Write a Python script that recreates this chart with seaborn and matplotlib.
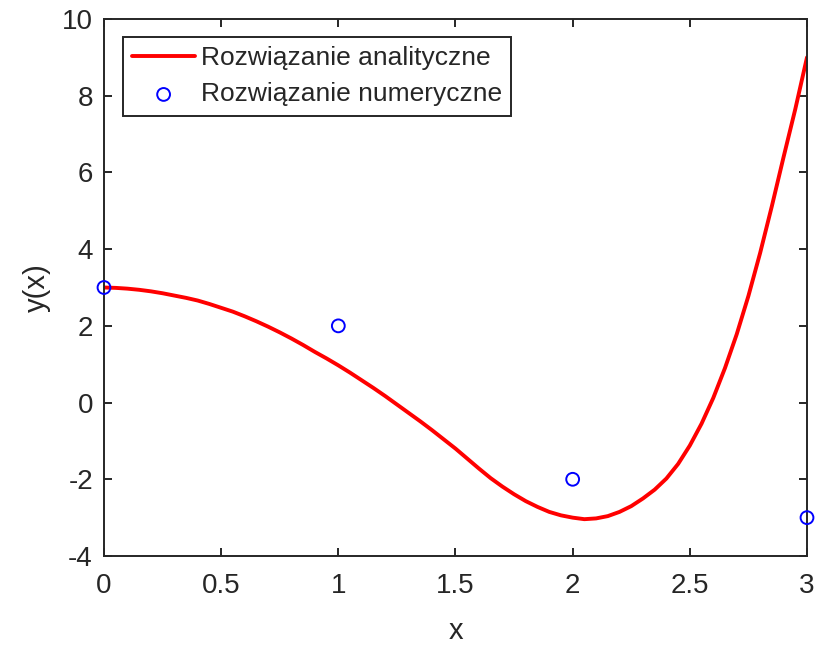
import matplotlib
matplotlib.use("Agg")
import matplotlib.pyplot as plt
import seaborn as sns
import pandas as pd

# Analytic solution
x_analytic = [0.00, 0.05, 0.10, 0.15, 0.20, 0.25, 0.30, 0.35, 0.40, 0.45,
              0.50, 0.55, 0.60, 0.65, 0.70, 0.75, 0.80, 0.85, 0.90, 0.95,
              1.00, 1.05, 1.10, 1.15, 1.20, 1.25, 1.30, 1.35, 1.40, 1.45,
              1.50, 1.55, 1.60, 1.65, 1.70, 1.75, 1.80, 1.85, 1.90, 1.95,
              2.00, 2.05, 2.10, 2.15, 2.20, 2.25, 2.30, 2.35, 2.40, 2.45,
              2.50, 2.55, 2.60, 2.65, 2.70, 2.75, 2.80, 2.85, 2.90, 2.95,
              3.00]
y_analytic = [3.00, 2.99, 2.97, 2.94, 2.90, 2.85, 2.79, 2.73, 2.66, 2.57,
              2.47, 2.37, 2.25, 2.12, 1.98, 1.83, 1.67, 1.50, 1.32, 1.15,
              0.97, 0.78, 0.58, 0.38, 0.17, -0.05, -0.27, -0.49, -0.72, -0.96,
              -1.20, -1.46, -1.72, -1.97, -2.19, -2.39, -2.57, -2.72, -2.85, -2.94,
              -3.00, -3.04, -3.02, -2.96, -2.85, -2.70, -2.50, -2.27, -1.98, -1.60,
              -1.12, -0.55, 0.12, 0.90, 1.78, 2.78, 3.90, 5.12, 6.40, 7.65,
              9.00]

# Numerical solution
x_numeric = [0, 1, 2, 3]
y_numeric = [3, 2, -2, -3]

x_ticks = [0, 0.5, 1, 1.5, 2, 2.5, 3]
x_tick_labels = ["0", "0.5", "1", "1.5", "2", "2.5", "3"]
y_ticks = [-4, -2, 0, 2, 4, 6, 8, 10]
y_tick_labels = ["-4", "-2", "0", "2", "4", "6", "8", "10"]

label_analytic = "Rozwiązanie analityczne"
label_numeric = "Rozwiązanie numeryczne"

sns.set_theme(style="white")
plt.rcParams["font.family"] = ["Liberation Sans", "DejaVu Sans"]
plt.rcParams["axes.unicode_minus"] = False

df_a = pd.DataFrame({"x": x_analytic, "y": y_analytic})
df_n = pd.DataFrame({"x": x_numeric, "y": y_numeric})

fig = plt.figure(figsize=(8.29, 6.46), dpi=100)
ax = fig.add_axes([104 / 829, 1 - 556 / 646, 703 / 829, 537 / 646])

sns.lineplot(data=df_a, x="x", y="y", ax=ax, color="red", linewidth=2.8,
             label=label_analytic, estimator=None, sort=False)
sns.scatterplot(data=df_n, x="x", y="y", ax=ax, marker="o", s=85,
                facecolor="none", edgecolor="blue", linewidth=1.4,
                label=label_numeric, zorder=3, clip_on=False)

ax.set_xlim(0, 3)
ax.set_ylim(-4, 10)
ax.set_xticks(x_ticks)
ax.set_xticklabels(x_tick_labels)
ax.set_yticks(y_ticks)
ax.set_yticklabels(y_tick_labels)

edge = "#262626"
for sp in ax.spines.values():
    sp.set_visible(True)
    sp.set_color(edge)
    sp.set_linewidth(1.4)

ax.tick_params(axis="both", which="major", direction="in", length=6, width=1.4,
               colors=edge, labelcolor="#262626", labelsize=20,
               top=True, right=True, bottom=True, left=True)
ax.tick_params(axis="x", pad=12)
ax.tick_params(axis="y", pad=8)
ax.grid(False)

ax.set_xlabel("x", fontsize=21, color="#262626", labelpad=13)
ax.set_ylabel("y(x)", fontsize=21, color="#262626", labelpad=8)

leg = ax.legend(loc="upper left", bbox_to_anchor=(0.0266, 0.966),
                borderaxespad=0, fontsize=19, frameon=True, fancybox=False,
                handlelength=2.4, handletextpad=0.2, labelspacing=0.45,
                borderpad=0.35, markerscale=1.0)
leg.get_frame().set_edgecolor(edge)
leg.get_frame().set_linewidth(1.4)
leg.get_frame().set_facecolor("white")
leg.get_frame().set_alpha(1)

fig.savefig("out.png", dpi=100, facecolor="white")
